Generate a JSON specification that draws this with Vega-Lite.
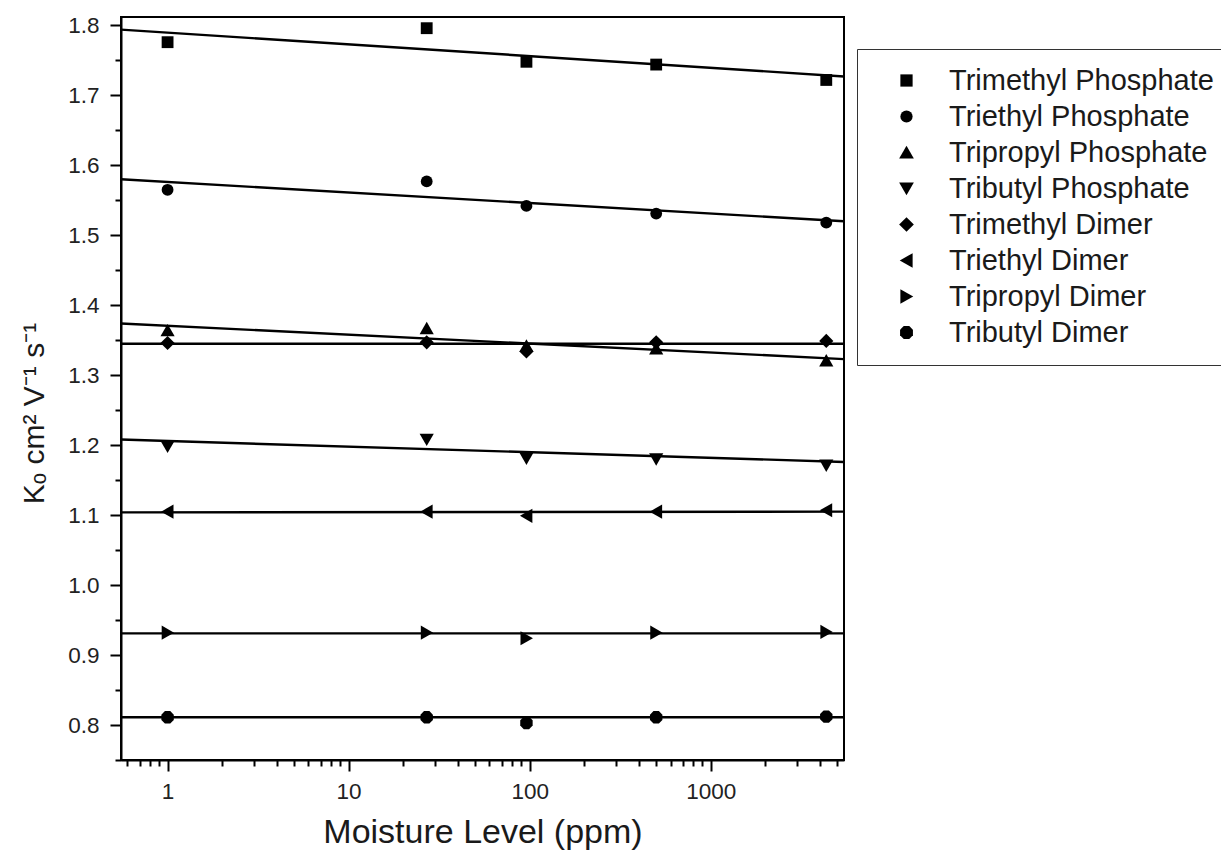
{
  "$schema": "https://vega.github.io/schema/vega-lite/v6.json",
  "autosize": {"type": "none"},
  "padding": {"left": 121, "top": 17, "right": 377, "bottom": 99},
  "width": 723,
  "height": 743,
  "background": "white",
  "config": {
    "view": {"stroke": "black", "strokeWidth": 2},
    "font": "Liberation Sans",
    "axis": {
      "domainColor": "black",
      "domainWidth": 2,
      "tickColor": "black",
      "tickWidth": 2,
      "grid": false,
      "labelFont": "Liberation Sans",
      "labelFontSize": 22.5,
      "labelColor": "#222222",
      "titleFont": "Liberation Sans",
      "titleColor": "#1a1a1a",
      "titleFontWeight": "normal",
      "labelOverlap": false,
      "labelFlush": false
    },
    "legend": {
      "labelFont": "Liberation Sans",
      "labelFontSize": 29,
      "labelColor": "#1a1a1a"
    }
  },
  "datasets": {
    "fits": [
      {"series": "Trimethyl Phosphate", "ppm": 0.553, "k0": 1.794},
      {"series": "Trimethyl Phosphate", "ppm": 5450, "k0": 1.727},
      {"series": "Triethyl Phosphate", "ppm": 0.553, "k0": 1.580},
      {"series": "Triethyl Phosphate", "ppm": 5450, "k0": 1.520},
      {"series": "Tripropyl Phosphate", "ppm": 0.553, "k0": 1.374},
      {"series": "Tripropyl Phosphate", "ppm": 5450, "k0": 1.323},
      {"series": "Tributyl Phosphate", "ppm": 0.553, "k0": 1.208},
      {"series": "Tributyl Phosphate", "ppm": 5450, "k0": 1.176},
      {"series": "Trimethyl Dimer", "ppm": 0.553, "k0": 1.345},
      {"series": "Trimethyl Dimer", "ppm": 5450, "k0": 1.345},
      {"series": "Triethyl Dimer", "ppm": 0.553, "k0": 1.104},
      {"series": "Triethyl Dimer", "ppm": 5450, "k0": 1.105},
      {"series": "Tripropyl Dimer", "ppm": 0.553, "k0": 0.931},
      {"series": "Tripropyl Dimer", "ppm": 5450, "k0": 0.931},
      {"series": "Tributyl Dimer", "ppm": 0.553, "k0": 0.811},
      {"series": "Tributyl Dimer", "ppm": 5450, "k0": 0.811}
    ],
    "points": [
      {"series": "Trimethyl Phosphate", "ppm": 1, "k0": 1.776},
      {"series": "Trimethyl Phosphate", "ppm": 27, "k0": 1.796},
      {"series": "Trimethyl Phosphate", "ppm": 96, "k0": 1.748},
      {"series": "Trimethyl Phosphate", "ppm": 500, "k0": 1.744},
      {"series": "Trimethyl Phosphate", "ppm": 4350, "k0": 1.722},
      {"series": "Triethyl Phosphate", "ppm": 1, "k0": 1.565},
      {"series": "Triethyl Phosphate", "ppm": 27, "k0": 1.577},
      {"series": "Triethyl Phosphate", "ppm": 96, "k0": 1.542},
      {"series": "Triethyl Phosphate", "ppm": 500, "k0": 1.531},
      {"series": "Triethyl Phosphate", "ppm": 4350, "k0": 1.518},
      {"series": "Tripropyl Phosphate", "ppm": 1, "k0": 1.364},
      {"series": "Tripropyl Phosphate", "ppm": 27, "k0": 1.367},
      {"series": "Tripropyl Phosphate", "ppm": 96, "k0": 1.342},
      {"series": "Tripropyl Phosphate", "ppm": 500, "k0": 1.338},
      {"series": "Tripropyl Phosphate", "ppm": 4350, "k0": 1.321},
      {"series": "Tributyl Phosphate", "ppm": 1, "k0": 1.198},
      {"series": "Tributyl Phosphate", "ppm": 27, "k0": 1.208},
      {"series": "Tributyl Phosphate", "ppm": 96, "k0": 1.181},
      {"series": "Tributyl Phosphate", "ppm": 500, "k0": 1.180},
      {"series": "Tributyl Phosphate", "ppm": 4350, "k0": 1.171},
      {"series": "Trimethyl Dimer", "ppm": 1, "k0": 1.346},
      {"series": "Trimethyl Dimer", "ppm": 27, "k0": 1.347},
      {"series": "Trimethyl Dimer", "ppm": 96, "k0": 1.334},
      {"series": "Trimethyl Dimer", "ppm": 500, "k0": 1.347},
      {"series": "Trimethyl Dimer", "ppm": 4350, "k0": 1.349},
      {"series": "Triethyl Dimer", "ppm": 1, "k0": 1.105},
      {"series": "Triethyl Dimer", "ppm": 27, "k0": 1.105},
      {"series": "Triethyl Dimer", "ppm": 96, "k0": 1.099},
      {"series": "Triethyl Dimer", "ppm": 500, "k0": 1.105},
      {"series": "Triethyl Dimer", "ppm": 4350, "k0": 1.107},
      {"series": "Tripropyl Dimer", "ppm": 1, "k0": 0.932},
      {"series": "Tripropyl Dimer", "ppm": 27, "k0": 0.932},
      {"series": "Tripropyl Dimer", "ppm": 96, "k0": 0.924},
      {"series": "Tripropyl Dimer", "ppm": 500, "k0": 0.932},
      {"series": "Tripropyl Dimer", "ppm": 4350, "k0": 0.933},
      {"series": "Tributyl Dimer", "ppm": 1, "k0": 0.811},
      {"series": "Tributyl Dimer", "ppm": 27, "k0": 0.811},
      {"series": "Tributyl Dimer", "ppm": 96, "k0": 0.803},
      {"series": "Tributyl Dimer", "ppm": 500, "k0": 0.811},
      {"series": "Tributyl Dimer", "ppm": 4350, "k0": 0.812}
    ]
  },
  "encoding": {
    "x": {
      "field": "ppm",
      "type": "quantitative",
      "scale": {"type": "log", "domain": [0.553, 5450], "nice": false},
      "axis": {
        "title": "Moisture Level (ppm)",
        "titleFontSize": 34,
        "titlePadding": 13,
        "labelPadding": 9,
        "values": [0.6, 0.7, 0.8, 0.9, 1, 2, 3, 4, 5, 6, 7, 8, 9, 10, 20, 30, 40, 50, 60, 70, 80, 90, 100, 200, 300, 400, 500, 600, 700, 800, 900, 1000, 2000, 3000, 4000, 5000],
        "tickSize": {"condition": {"test": "abs(log(datum.value)/LN10 - round(log(datum.value)/LN10)) < 0.001", "value": 11}, "value": 6},
        "labelExpr": "abs(log(datum.value)/LN10 - round(log(datum.value)/LN10)) < 0.001 ? format(datum.value, 'd') : ''"
      }
    },
    "y": {
      "field": "k0",
      "type": "quantitative",
      "scale": {"domain": [0.75, 1.812], "nice": false, "zero": false},
      "axis": {
        "title": "Kₒ cm² V⁻¹ s⁻¹",
        "titleFontSize": 30,
        "titleAngle": -90,
        "titleAlign": "center",
        "titleBaseline": "alphabetic",
        "titleX": -78,
        "titleY": 396,
        "labelPadding": 11,
        "values": [0.75, 0.8, 0.85, 0.9, 0.95, 1.0, 1.05, 1.1, 1.15, 1.2, 1.25, 1.3, 1.35, 1.4, 1.45, 1.5, 1.55, 1.6, 1.65, 1.7, 1.75, 1.8],
        "tickSize": {"condition": {"test": "abs(datum.value*10 - round(datum.value*10)) < 0.001", "value": 11}, "value": 6},
        "labelExpr": "abs(datum.value*10 - round(datum.value*10)) < 0.001 ? format(datum.value, '.1f') : ''"
      }
    }
  },
  "layer": [
    {
      "data": {"name": "fits"},
      "mark": {"type": "line", "color": "black", "strokeWidth": 2.4, "clip": true},
      "encoding": {"detail": {"field": "series"}}
    },
    {
      "data": {"name": "points"},
      "mark": {"type": "point", "filled": true, "color": "black", "opacity": 1, "size": 140, "strokeWidth": 0},
      "encoding": {
        "shape": {
          "field": "series",
          "type": "nominal",
          "scale": {
            "domain": ["Trimethyl Phosphate", "Triethyl Phosphate", "Tripropyl Phosphate", "Tributyl Phosphate", "Trimethyl Dimer", "Triethyl Dimer", "Tripropyl Dimer", "Tributyl Dimer"],
            "range": ["square", "circle", "M0,-1.1L1.2,1L-1.2,1Z", "M0,1.1L1.2,-1L-1.2,-1Z", "M0,-1.2L1.2,0L0,1.2L-1.2,0Z", "M-1.1,0L1,-1.2L1,1.2Z", "M1.1,0L-1,-1.2L-1,1.2Z", "M-0.45,-1.05L0.45,-1.05L1.05,-0.45L1.05,0.45L0.45,1.05L-0.45,1.05L-1.05,0.45L-1.05,-0.45Z"]
          },
          "legend": {
            "title": null,
            "orient": "none",
            "legendX": 736,
            "legendY": 32,
            "padding": 17,
            "symbolOffset": 18,
            "labelOffset": 28,
            "rowPadding": 6,
            "symbolSize": 150,
            "symbolFillColor": "black",
            "symbolStrokeWidth": 0,
            "strokeColor": "#333333",
            "fillColor": "white",
            "labelLimit": 400
          }
        }
      }
    }
  ]
}
